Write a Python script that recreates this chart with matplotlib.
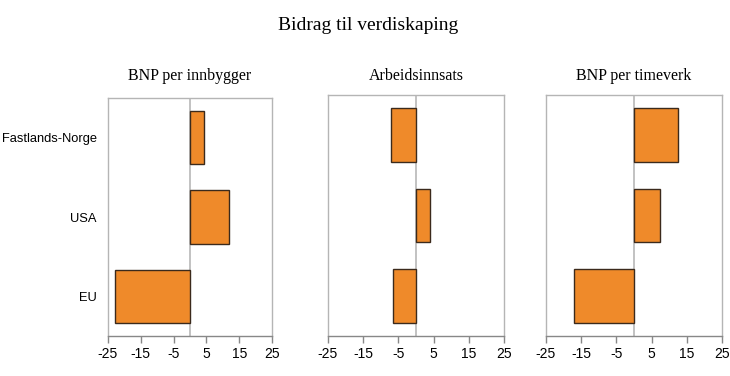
import matplotlib
matplotlib.use("Agg")
import matplotlib.pyplot as plt

categories = ["Fastlands-Norge", "USA", "EU"]
panel_titles = ["BNP per innbygger", "Arbeidsinnsats", "BNP per timeverk"]
bnp_per_innbygger = [4.4, 12.0, -22.8]
arbeidsinnsats = [-7.2, 4.1, -6.6]
bnp_per_timeverk = [12.5, 7.5, -17.1]
xticks = [-25, -15, -5, 5, 15, 25]

series = [bnp_per_innbygger, arbeidsinnsats, bnp_per_timeverk]

W, H = 730, 376
fig = plt.figure(figsize=(W / 100, H / 100), dpi=100)

# pixel boxes: left, top, right, bottom
boxes = [(108, 98, 272, 336), (328, 95, 504, 336), (546, 95, 722, 336)]

serif = "Liberation Serif"
sans = "Liberation Sans"

for i, (vals, title, box) in enumerate(zip(series, panel_titles, boxes)):
    l, t, r, b = box
    ax = fig.add_axes([l / W, 1 - b / H, (r - l) / W, (b - t) / H])
    y = list(range(len(categories)))
    ax.barh(y, vals, height=0.67, color="#EF8A2A", edgecolor="#3b2a1c", linewidth=1.0, zorder=3)
    ax.axvline(0, color="#b8b8b8", linewidth=1.2, zorder=2)
    ax.set_xlim(-25, 25)
    ax.set_ylim(len(categories) - 0.5, -0.5)
    ax.set_xticks(xticks)
    ax.set_xticklabels([str(v) for v in xticks], fontfamily=sans, fontsize=10)
    ax.tick_params(axis="x", length=5, width=1, color="#888888", pad=3)
    for s in ["left", "right", "top"]:
        ax.spines[s].set_color("#b5b5b5")
        ax.spines[s].set_linewidth(1.0)
    ax.spines["bottom"].set_color("#888888")
    ax.spines["bottom"].set_linewidth(1.0)
    if i == 0:
        ax.set_yticks(y)
        ax.set_yticklabels(categories, fontfamily=sans, fontsize=9.3)
        ax.tick_params(axis="y", length=0, pad=8)
    else:
        ax.set_yticks([])
    ax.text(0.5, 1 + (t - 76) / (b - t), title, transform=ax.transAxes,
            ha="center", va="center", fontfamily=serif, fontsize=11.5)

fig.text(368 / W, 1 - 25 / H, "Bidrag til verdiskaping", ha="center", va="center",
         fontfamily=serif, fontsize=14)

fig.savefig("out.png", dpi=100)
